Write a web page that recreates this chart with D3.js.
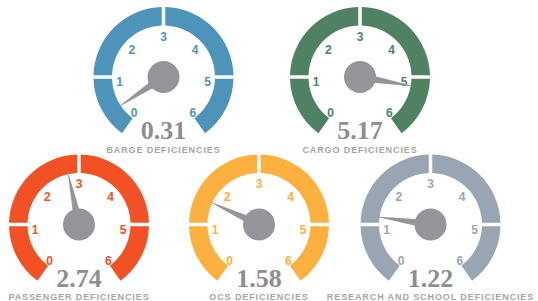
<!DOCTYPE html>
<html lang="en">
<head>
<meta charset="utf-8">
<title>Deficiencies</title>
<script src="https://d3js.org/d3.v7.min.js"></script>
<style>
    body { margin: 0; background: #fff; }
</style>
</head>
<body>
<div id="chart"></div>
<script>
var WIDTH = 538;
var HEIGHT = 301;

// data
var names = ["BARGE DEFICIENCIES", "CARGO DEFICIENCIES", "PASSENGER DEFICIENCIES",
             "OCS DEFICIENCIES", "RESEARCH AND SCHOOL DEFICIENCIES"];
var values = [0.31, 5.17, 2.74, 1.58, 1.22];
var ticks = [0, 1, 2, 3, 4, 5, 6];
var colors = ["#4d93ba", "#4e8262", "#f15125", "#fbb040", "#9aa5b4"];

// layout (center of each dial)
var centers = [[163.5, 77], [360, 77], [79, 224.5], [259, 224.5], [430.5, 224.5]];

var OUTER = 70, INNER = 51.5, HUB = 16, NEEDLE = 56;

const svg = d3.select("#chart")
    .append("svg")
    .attr("width", WIDTH)
    .attr("height", HEIGHT);

// value -> degrees, 3 straight up
var angle = d3.scaleLinear().domain([0, 6]).range([-138, 138]);
var rad = function(d) { return d * Math.PI / 180; };

// arc pieces, split at 9, 12 and 3 o'clock
var bands = [[-145, -90], [-90, 0], [0, 90], [90, 145]];

var arc = d3.arc()
    .innerRadius(INNER)
    .outerRadius(OUTER)
    .padRadius(OUTER)
    .padAngle(3.5 / OUTER);

var g = svg.selectAll("g.gauge")
    .data(names)
    .enter().append("g")
    .attr("class", "gauge")
    .attr("transform", function(d, i) { return "translate(" + centers[i][0] + "," + centers[i][1] + ")"; });

g.each(function(name, i) {
    var gg = d3.select(this);

    gg.selectAll("path.band")
        .data(bands)
        .enter().append("path")
        .attr("class", "band")
        .attr("d", function(b) { return arc({startAngle: rad(b[0]), endAngle: rad(b[1])}); })
        .attr("fill", colors[i]);

    gg.selectAll("text.tick")
        .data(ticks)
        .enter().append("text")
        .attr("class", "tick")
        .attr("x", function(t) { return Math.sin(rad(angle(t))) * 44; })
        .attr("y", function(t) { return -Math.cos(rad(angle(t))) * 44 + 7.5; })
        .attr("text-anchor", "middle")
        .attr("font-family", "Liberation Sans, Arial, sans-serif")
        .attr("font-weight", "bold")
        .attr("font-size", 12)
        .attr("fill", colors[i])
        .text(function(t) { return t; });

    // needle
    var a = rad(angle(values[i]));
    var w = 4.5;
    var pts = [
        [Math.sin(a) * NEEDLE, -Math.cos(a) * NEEDLE],
        [Math.cos(a) * w, Math.sin(a) * w],
        [-Math.cos(a) * w, -Math.sin(a) * w]
    ];
    gg.append("polygon")
        .attr("points", pts.map(function(p) { return p.join(","); }).join(" "))
        .attr("fill", "#939598");

    gg.append("circle")
        .attr("r", HUB)
        .attr("fill", "#939598");

    gg.append("text")
        .attr("y", 62.4)
        .attr("text-anchor", "middle")
        .attr("font-family", "Liberation Serif, Times New Roman, serif")
        .attr("font-weight", "bold")
        .attr("font-size", 26)
        .attr("fill", "#8e8e91")
        .text(values[i].toFixed(2));

    gg.append("text")
        .attr("y", 75.8)
        .attr("text-anchor", "middle")
        .attr("font-family", "Liberation Sans, Arial, sans-serif")
        .attr("font-weight", "bold")
        .attr("font-size", 9)
        .attr("letter-spacing", 0.9)
        .attr("fill", "#a3a5a8")
        .text(name);
});
</script>
</body>
</html>
